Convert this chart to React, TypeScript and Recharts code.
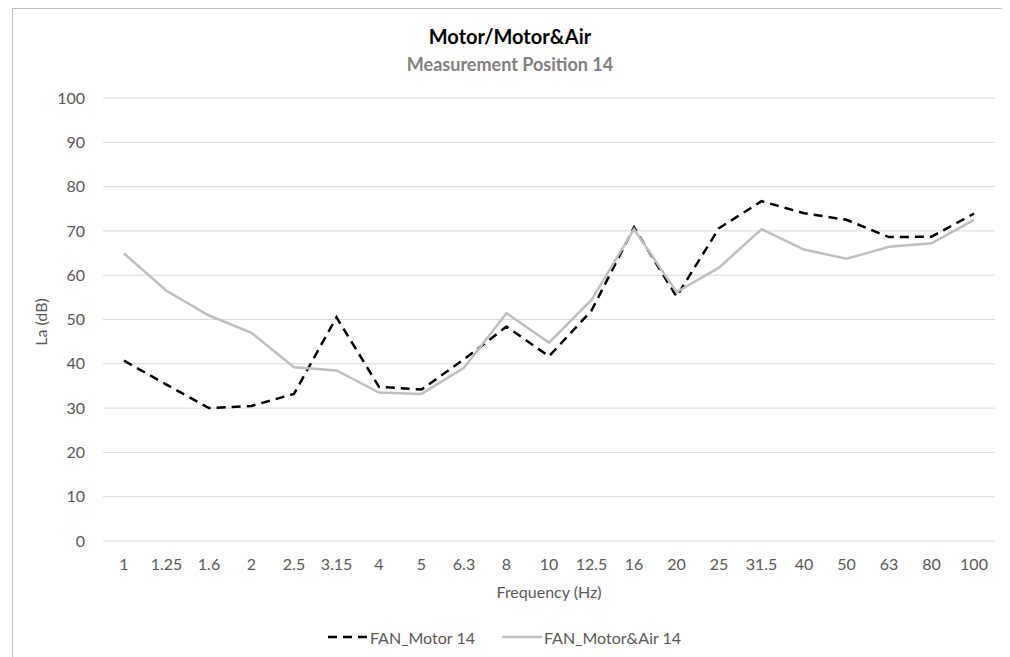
// App.tsx
import { LineChart, Line, XAxis, YAxis, CartesianGrid } from "recharts";

const frequencies = [
  "1", "1.25", "1.6", "2", "2.5", "3.15", "4", "5", "6.3", "8", "10",
  "12.5", "16", "20", "25", "31.5", "40", "50", "63", "80", "100",
];

const motor14 = [
  40.7, 35.3, 30, 30.5, 33.2, 50.5, 34.8, 34.2, 41, 48.4, 41.7,
  52, 70.8, 55.2, 70.6, 76.7, 74, 72.5, 68.6, 68.7, 73.9,
];

const motorAir14 = [
  64.9, 56.5, 50.9, 47, 39.2, 38.5, 33.5, 33.2, 39.1, 51.4, 44.8,
  54.4, 70.4, 56.2, 61.7, 70.4, 65.8, 63.7, 66.4, 67.2, 72.5,
];

const yTicks = [0, 10, 20, 30, 40, 50, 60, 70, 80, 90, 100];

const series = [
  { key: "motor", name: "FAN_Motor 14", color: "#000000", dash: "9 6" },
  { key: "motorAir", name: "FAN_Motor&Air 14", color: "#bfbfbf", dash: undefined },
];

const data = frequencies.map((f, i) => ({
  freq: f,
  motor: motor14[i],
  motorAir: motorAir14[i],
}));

const FONT = "Lato, 'Open Sans', sans-serif";
const tickStyle = { fill: "#595959", fontSize: 16, fontFamily: FONT };

export default function App() {
  return (
    <div
      style={{
        position: "relative",
        marginLeft: 4,
        width: 996,
        height: 660,
        border: "1px solid #bfbfbf",
        boxSizing: "border-box",
        background: "#fff",
        fontFamily: FONT,
      }}
    >
      <div
        style={{
          position: "absolute",
          top: 15,
          left: 0,
          width: "100%",
          textAlign: "center",
          fontSize: 20,
          lineHeight: "24px",
          fontWeight: 700,
          color: "#000",
        }}
      >
        Motor/Motor&amp;Air
      </div>
      <div
        style={{
          position: "absolute",
          top: 43,
          left: 0,
          width: "100%",
          textAlign: "center",
          fontSize: 18,
          lineHeight: "24px",
          fontWeight: 700,
          color: "#808080",
        }}
      >
        Measurement Position 14
      </div>

      <LineChart
        width={994}
        height={650}
        data={data}
        margin={{ top: 89, right: 12, left: 30, bottom: 78 }}
      >
        <CartesianGrid stroke="#d9d9d9" vertical={false} />
        <XAxis
          dataKey="freq"
          axisLine={false}
          tickLine={false}
          tickMargin={12}
          height={40}
          interval={0}
          padding={{ left: 21, right: 21 }}
          tick={tickStyle}
        />
        <YAxis
          domain={[0, 100]}
          ticks={yTicks}
          axisLine={false}
          tickLine={false}
          tickMargin={12}
          width={60}
          tick={tickStyle}
        />
        {series.map((s) => (
          <Line
            key={s.key}
            type="linear"
            dataKey={s.key}
            name={s.name}
            stroke={s.color}
            strokeWidth={2.5}
            strokeDasharray={s.dash}
            dot={false}
            activeDot={false}
            isAnimationActive={false}
          />
        ))}
      </LineChart>

      <div
        style={{
          position: "absolute",
          left: 27,
          top: 313,
          transform: "translate(-50%, -50%) rotate(-90deg)",
          whiteSpace: "nowrap",
          fontSize: 16,
          color: "#595959",
        }}
      >
        La (dB)
      </div>
      <div
        style={{
          position: "absolute",
          left: 436,
          width: 200,
          top: 572,
          lineHeight: "22px",
          textAlign: "center",
          fontSize: 16,
          color: "#595959",
        }}
      >
        Frequency (Hz)
      </div>

      <div
        style={{
          position: "absolute",
          left: 315,
          top: 617,
          height: 22,
          display: "flex",
          alignItems: "center",
          gap: 27,
          fontSize: 16,
          color: "#595959",
        }}
      >
        {series.map((s) => (
          <div key={s.key} style={{ display: "flex", alignItems: "center" }}>
            <svg width={40} height={10} style={{ marginRight: 2 }}>
              <line
                x1={0}
                y1={5}
                x2={40}
                y2={5}
                stroke={s.color}
                strokeWidth={2.5}
                strokeDasharray={s.dash}
              />
            </svg>
            <span>{s.name}</span>
          </div>
        ))}
      </div>
    </div>
  );
}
